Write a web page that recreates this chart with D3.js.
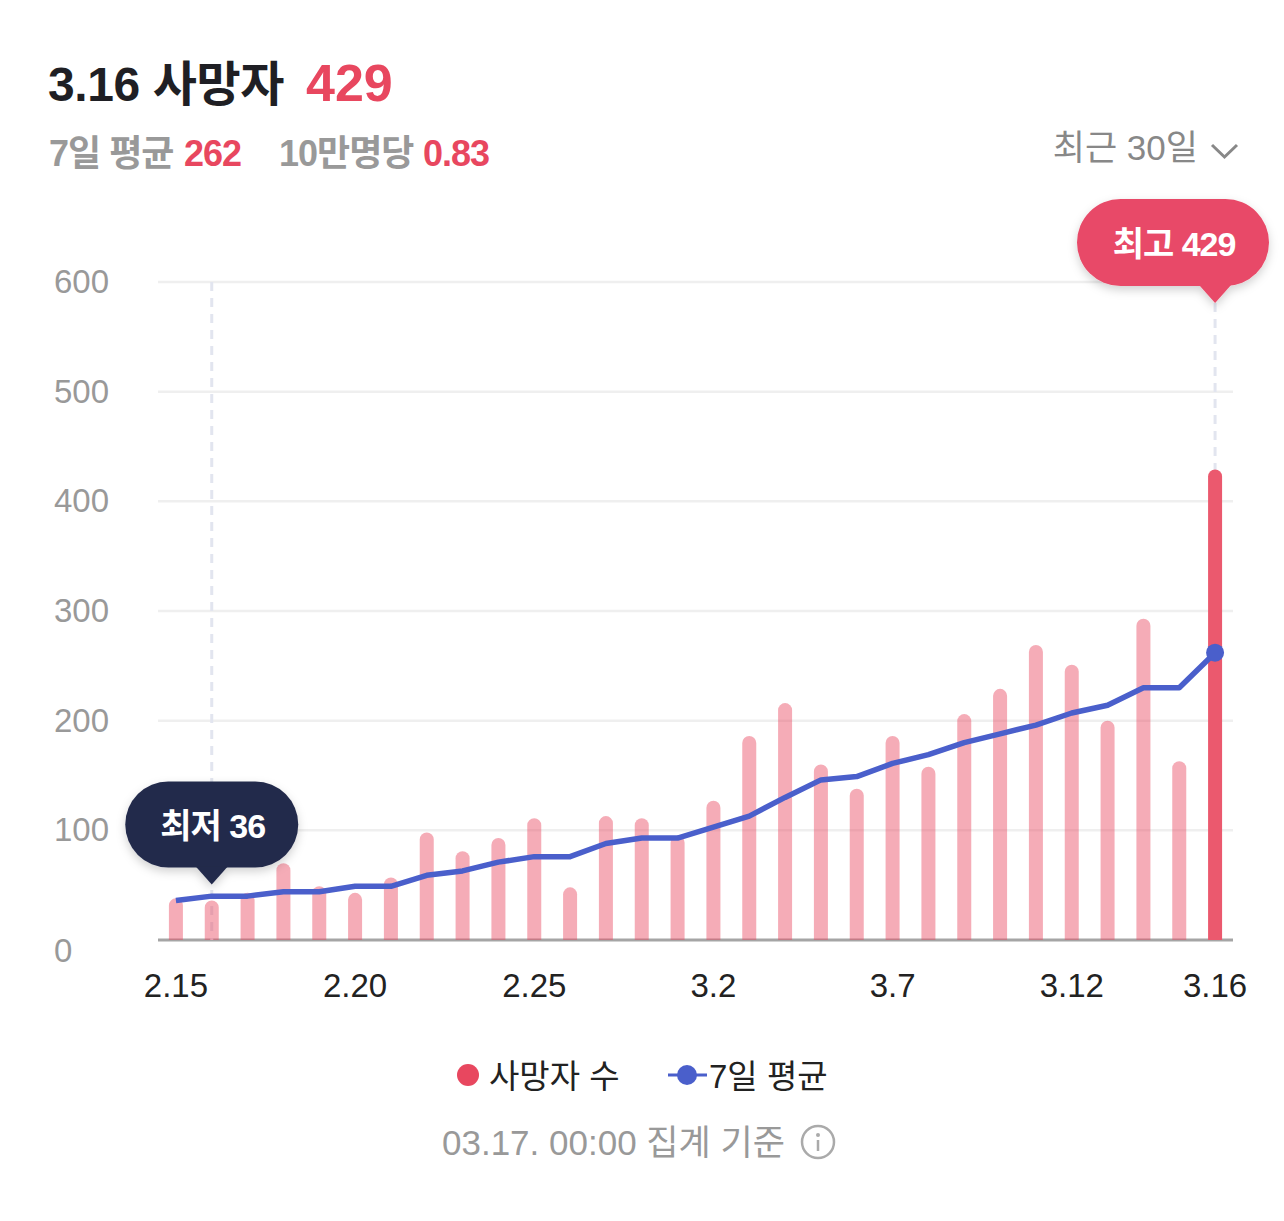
<!DOCTYPE html>
<html lang="ko">
<head>
<meta charset="utf-8">
<script src="https://cdn.jsdelivr.net/npm/d3@7"></script>
<style>
  html, body { margin: 0; padding: 0; background: #fff; }
  svg { display: block; font-family: 'Liberation Sans', 'Noto Sans CJK KR', sans-serif; }
</style>
</head>
<body>
<div id="visualization"></div>
<script>
// 2.15 ~ 3.16, one entry per day
const dates = ['2.15', '2.16', '2.17', '2.18', '2.19', '2.20', '2.21', '2.22', '2.23', '2.24',
  '2.25', '2.26', '2.27', '2.28', '3.1', '3.2', '3.3', '3.4', '3.5', '3.6',
  '3.7', '3.8', '3.9', '3.10', '3.11', '3.12', '3.13', '3.14', '3.15', '3.16']
const deaths = [38, 36, 43, 70, 49, 43, 57, 98, 81, 93,
  111, 48, 113, 111, 95, 127, 186, 216, 160, 138,
  186, 158, 206, 229, 269, 251, 200, 293, 163, 429]
const weekAvg = [36, 40, 40, 44, 44, 49, 49, 59, 63, 71,
  76, 76, 88, 93, 93, 103, 113, 130, 146, 149,
  161, 169, 180, 188, 196, 207, 214, 230, 230, 262]
const xTickLabels = ['2.15', '2.20', '2.25', '3.2', '3.7', '3.12', '3.16']
const yTicks = [0, 100, 200, 300, 400, 500, 600]

const width = 1284
const height = 1221
const margin = { top: 282, right: 51, bottom: 281, left: 158 }

const red = '#e8475f'
const blue = '#4a5fcb'
const navy = '#232a4b'

const svg = d3
  .select('#visualization')
  .append('svg')
  .attr('width', width)
  .attr('height', height)

const defs = svg.append('defs')
defs
  .append('filter')
  .attr('id', 'shadow')
  .attr('x', '-20%')
  .attr('y', '-30%')
  .attr('width', '140%')
  .attr('height', '170%')
  .append('feDropShadow')
  .attr('dx', 0)
  .attr('dy', 4)
  .attr('stdDeviation', 5)
  .attr('flood-color', '#000')
  .attr('flood-opacity', 0.18)

const x = d3
  .scaleBand()
  .domain(dates)
  .range([margin.left, width - margin.right])
const cx = d => x(d) + x.bandwidth() / 2

const y = d3
  .scaleLinear()
  .domain([0, 600])
  .range([height - margin.bottom, margin.top])

// ---- header ----
const header = svg.append('g').style('font-weight', 700)
header.append('text')
  .attr('x', 48).attr('y', 101)
  .attr('font-size', 48).attr('letter-spacing', -0.4)
  .attr('fill', '#1f1f24')
  .text(`${dates[dates.length - 1]} 사망자`)
header.append('text')
  .attr('x', 306).attr('y', 101)
  .attr('font-size', 52)
  .attr('fill', red)
  .text(deaths[deaths.length - 1])

const sub = [
  { x: 49, text: '7일 평균', color: '#999' },
  { x: 184, text: weekAvg[weekAvg.length - 1], color: red },
  { x: 279, text: '10만명당', color: '#999' },
  { x: 423, text: '0.83', color: red }
]
header.selectAll('.sub')
  .data(sub)
  .join('text')
  .attr('class', 'sub')
  .attr('x', d => d.x).attr('y', 166)
  .attr('font-size', 36).attr('letter-spacing', -1)
  .attr('fill', d => d.color)
  .text(d => d.text)

// period selector
svg.append('text')
  .attr('x', 1198).attr('y', 160)
  .attr('text-anchor', 'end')
  .attr('font-size', 35)
  .attr('fill', '#888')
  .text('최근 30일')
svg.append('polyline')
  .attr('points', '1212,145 1224.5,157 1237,145')
  .attr('fill', 'none')
  .attr('stroke', '#888')
  .attr('stroke-width', 3)

// ---- axes ----
// gridlines, built by hand like the original (no domain line)
svg.append('g')
  .selectAll('line')
  .data(yTicks)
  .join('line')
  .attr('x1', margin.left)
  .attr('x2', width - margin.right)
  .attr('y1', d => y(d))
  .attr('y2', d => y(d))
  .attr('stroke', d => (d === 0 ? '#a5a5a5' : '#efefef'))
  .attr('stroke-width', d => (d === 0 ? 3 : 2.5))

svg.append('g')
  .selectAll('text')
  .data(yTicks)
  .join('text')
  .attr('x', 54)
  .attr('y', d => y(d) + (d === 0 ? 22 : 11))
  .attr('font-size', 33)
  .attr('fill', '#999')
  .text(d => d)

svg.append('g')
  .selectAll('text')
  .data(xTickLabels)
  .join('text')
  .attr('x', d => cx(d))
  .attr('y', 997)
  .attr('text-anchor', 'middle')
  .attr('font-size', 33)
  .attr('fill', '#222')
  .text(d => d)

// ---- min / max markers ----
const last = dates.length - 1
const minIdx = deaths.indexOf(d3.min(deaths))
const maxIdx = deaths.indexOf(d3.max(deaths))

const minTipY = y(deaths[minIdx]) - 16
const maxTipY = y(600) + 21

svg.append('g')
  .selectAll('line')
  .data([minIdx, maxIdx])
  .join('line')
  .attr('x1', i => cx(dates[i]))
  .attr('x2', i => cx(dates[i]))
  .attr('y1', i => (i === maxIdx ? maxTipY : y(600)))
  .attr('y2', y(0))
  .attr('stroke', '#e2e5ef')
  .attr('stroke-width', 3)
  .attr('stroke-dasharray', '9,7')

// ---- bars ----
const bw = 14
const barPath = (d, i) => {
  const x0 = cx(dates[i]) - bw / 2
  const top = y(d)
  const base = y(0)
  const r = bw / 2
  return `M${x0},${base}V${top + r}A${r},${r} 0 0 1 ${x0 + bw},${top + r}V${base}Z`
}

svg.append('g')
  .selectAll('path')
  .data(deaths)
  .join('path')
  .attr('d', barPath)
  .attr('fill', (d, i) => (i === last ? '#eb596e' : '#e8475f'))
  .attr('fill-opacity', (d, i) => (i === last ? 1 : 0.45))

// ---- 7 day average ----
const line = d3
  .line()
  .x((d, i) => cx(dates[i]))
  .y(d => y(d))

svg.append('path')
  .datum(weekAvg)
  .attr('d', line)
  .attr('fill', 'none')
  .attr('stroke', blue)
  .attr('stroke-width', 5.5)
  .attr('stroke-linejoin', 'round')

svg.append('circle')
  .attr('cx', cx(dates[last]))
  .attr('cy', y(weekAvg[last]))
  .attr('r', 9)
  .attr('fill', blue)

// ---- tooltips ----
const tip = (idx, tipY, label, fill, w, h) => {
  const tx = cx(dates[idx])
  // keep the pill inside the chart on the right
  let left = tx - w / 2
  left = Math.min(left, width - 15 - w)
  const top = tipY - 17 - h
  const g = svg.append('g').attr('filter', 'url(#shadow)')
  g.append('rect')
    .attr('x', left).attr('y', top)
    .attr('width', w).attr('height', h)
    .attr('rx', h / 2)
    .attr('fill', fill)
  g.append('path')
    .attr('d', `M${tx - 16},${top + h - 1}L${tx + 16},${top + h - 1}L${tx},${tipY}Z`)
    .attr('fill', fill)
  svg.append('text')
    .attr('x', left + w / 2 + 1)
    .attr('y', top + h / 2 + 13)
    .attr('text-anchor', 'middle')
    .attr('font-size', 34)
    .attr('font-weight', 700)
    .attr('letter-spacing', -1)
    .attr('fill', '#fff')
    .text(label)
}

tip(minIdx, minTipY, `최저 ${deaths[minIdx]}`, navy, 173, 86)
tip(maxIdx, maxTipY, `최고 ${deaths[maxIdx]}`, '#e84a68', 192, 87)

// ---- legend ----
const legend = svg.append('g').attr('font-size', 33).attr('fill', '#222')
legend.append('circle').attr('cx', 468).attr('cy', 1075).attr('r', 11).attr('fill', red)
legend.append('text').attr('x', 489).attr('y', 1088).text('사망자 수')
legend.append('line')
  .attr('x1', 668).attr('x2', 707)
  .attr('y1', 1075).attr('y2', 1075)
  .attr('stroke', blue).attr('stroke-width', 3)
legend.append('circle').attr('cx', 687).attr('cy', 1075).attr('r', 10).attr('fill', blue)
legend.append('text').attr('x', 709).attr('y', 1088).text('7일 평균')

// ---- footnote ----
svg.append('text')
  .attr('x', 442).attr('y', 1155)
  .attr('font-size', 35)
  .attr('fill', '#999')
  .text('03.17. 00:00 집계 기준')

const info = svg.append('g').attr('transform', 'translate(818,1142)')
info.append('circle').attr('r', 16).attr('fill', 'none').attr('stroke', '#aaa').attr('stroke-width', 2.5)
info.append('circle').attr('cy', -7).attr('r', 2).attr('fill', '#aaa')
info.append('line').attr('y1', -2).attr('y2', 9).attr('stroke', '#aaa').attr('stroke-width', 2.5)
</script>
</body>
</html>
